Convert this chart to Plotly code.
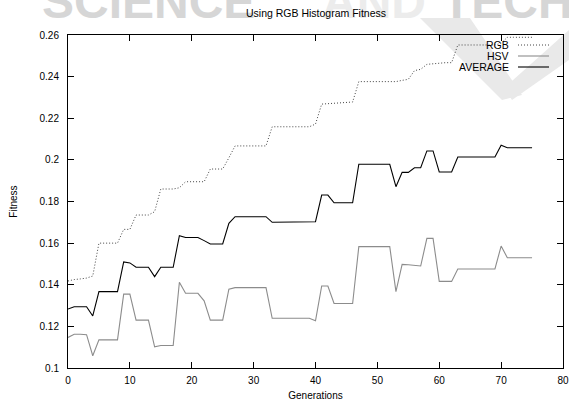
import plotly.graph_objects as go

# ---------------- data ----------------
generations = list(range(76))

rgb = [0.1418, 0.1425, 0.1428, 0.1432, 0.1442,
       0.1600, 0.1600, 0.1600, 0.1600,
       0.1666, 0.1666,
       0.1735, 0.1735, 0.1735,
       0.1751,
       0.1860, 0.1860, 0.1860,
       0.1866,
       0.1895, 0.1895, 0.1895, 0.1895,
       0.1956, 0.1956, 0.1956,
       0.2010,
       0.2067, 0.2067, 0.2067, 0.2067, 0.2067, 0.2067,
       0.2159, 0.2159, 0.2159, 0.2159, 0.2159, 0.2159, 0.2159,
       0.2172,
       0.2268, 0.2270, 0.2272, 0.2274, 0.2276,
       0.2278,
       0.2376, 0.2376, 0.2376, 0.2376, 0.2376, 0.2376, 0.2376,
       0.2382, 0.2387,
       0.2429, 0.2435,
       0.2459, 0.2462, 0.2467, 0.2467, 0.2467,
       0.2552, 0.2552, 0.2552, 0.2552, 0.2552, 0.2552, 0.2552,
       0.2560,
       0.2589, 0.2589, 0.2589, 0.2589, 0.2589]

hsv = [0.1147, 0.1162, 0.1162, 0.1160,
       0.1059,
       0.1135, 0.1135, 0.1135, 0.1135,
       0.1355, 0.1355,
       0.1230, 0.1230, 0.1230,
       0.1102, 0.1108, 0.1108, 0.1108,
       0.1412,
       0.1359, 0.1359, 0.1359,
       0.1323,
       0.1230, 0.1230, 0.1230,
       0.1379,
       0.1386, 0.1386, 0.1386, 0.1386, 0.1386, 0.1386,
       0.1239, 0.1239, 0.1239, 0.1239, 0.1239, 0.1239, 0.1239,
       0.1227,
       0.1394, 0.1394,
       0.1310, 0.1310, 0.1310, 0.1310,
       0.1583, 0.1583, 0.1583, 0.1583, 0.1583, 0.1583,
       0.1367,
       0.1498, 0.1496, 0.1492, 0.1490,
       0.1623, 0.1623,
       0.1416, 0.1416, 0.1416,
       0.1476, 0.1476, 0.1476, 0.1476, 0.1476, 0.1476, 0.1476,
       0.1586,
       0.1530, 0.1530, 0.1530, 0.1530, 0.1530]

average = [0.1283, 0.1294, 0.1294, 0.1294,
           0.1250,
           0.1367, 0.1367, 0.1367, 0.1367,
           0.1510, 0.1505,
           0.1484, 0.1484, 0.1484,
           0.1439,
           0.1484, 0.1484, 0.1484,
           0.1636,
           0.1627, 0.1627, 0.1627,
           0.1612,
           0.1596, 0.1596, 0.1596,
           0.1695,
           0.1727, 0.1727, 0.1727, 0.1727, 0.1727, 0.1727,
           0.1700, 0.1700, 0.1700, 0.1700, 0.1700, 0.1700, 0.1700,
           0.1703,
           0.1831, 0.1831,
           0.1794, 0.1794, 0.1794, 0.1794,
           0.1979, 0.1979, 0.1979, 0.1979, 0.1979, 0.1979,
           0.1871,
           0.1940, 0.1940,
           0.1962, 0.1962,
           0.2043, 0.2043,
           0.1942, 0.1942, 0.1942,
           0.2014, 0.2014, 0.2014, 0.2014, 0.2014, 0.2014, 0.2014,
           0.2070,
           0.2058, 0.2058, 0.2058, 0.2058, 0.2058]

series_names = ["RGB", "HSV", "AVERAGE"]
x_ticks = [0, 10, 20, 30, 40, 50, 60, 70, 80]
y_ticks = [0.1, 0.12, 0.14, 0.16, 0.18, 0.2, 0.22, 0.24, 0.26]
y_tick_labels = ["0.1", "0.12", "0.14", "0.16", "0.18", "0.2", "0.22", "0.24", "0.26"]
chart_title = "Using RGB Histogram Fitness"

# ---------------- layout geometry ----------------
W, H = 569, 403
L, R, T, B = 68, 6, 35, 35
FONT = "Liberation Sans, Arial, sans-serif"


def px(x):
    return (x - L) / (W - L - R)


def py(y):
    return (H - B - y) / (H - T - B)


styles = {
    "RGB": dict(color="#444444", width=1, dash="1px,2px"),
    "HSV": dict(color="#8c8c8c", width=1.1, dash="solid"),
    "AVERAGE": dict(color="#000000", width=1.1, dash="solid"),
}

fig = go.Figure()
for name, vals in zip(series_names, [rgb, hsv, average]):
    fig.add_trace(go.Scatter(x=generations, y=vals, mode="lines", name=name,
                             line=styles[name], showlegend=False))

shapes = []
annotations = []

# background watermark (decoration, drawn first so everything else sits on top)
shapes.append(dict(type="path", xref="paper", yref="paper", layer="below",
                   path=f"M {px(420)},{py(18)} L {px(470)},{py(18)} L {px(522)},{py(95)} L {px(502)},{py(100)} Z",
                   fillcolor="#e9e9e9", line=dict(width=0)))
shapes.append(dict(type="path", xref="paper", yref="paper", layer="below",
                   path=f"M {px(569)},{py(30)} L {px(569)},{py(60)} L {px(512)},{py(100)} L {px(504)},{py(88)} Z",
                   fillcolor="#e9e9e9", line=dict(width=0)))
for txt, x0, col in [("SCIENCE", 40, "#d6d6d6"), ("AND", 320, "#ececec"), ("TECH", 440, "#d6d6d6")]:
    annotations.append(dict(text=txt, x=px(x0), y=py(30), xref="paper", yref="paper",
                            xanchor="left", yanchor="bottom", showarrow=False,
                            font=dict(family=FONT, size=48, color=col, weight="bold")))

# chart title (after the watermark so it is drawn on top of it)
annotations.append(dict(text=chart_title, x=px(316), y=py(13), xref="paper", yref="paper",
                        xanchor="center", yanchor="middle", showarrow=False,
                        font=dict(family=FONT, size=10.5, color="#000000")))

# legend (gnuplot style: label right-aligned, sample on the right)
for i, name in enumerate(series_names):
    yy = 45 + 11 * i
    annotations.append(dict(text=name, x=px(511), y=py(yy), xref="paper", yref="paper",
                            xanchor="right", yanchor="middle", showarrow=False,
                            font=dict(family=FONT, size=10.5, color="#000000")))
    shapes.append(dict(type="line", xref="paper", yref="paper",
                       x0=px(518), x1=px(549), y0=py(yy), y1=py(yy),
                       line=styles[name]))

axis_common = dict(showline=True, linecolor="#000000", linewidth=1, mirror="ticks",
                   ticks="inside", ticklen=6, tickcolor="#000000", tickwidth=1,
                   showgrid=False, zeroline=False, automargin=False,
                   tickfont=dict(family=FONT, size=10, color="#000000"))

fig.update_layout(
    width=W, height=H,
    margin=dict(l=L, r=R, t=T, b=B),
    paper_bgcolor="white", plot_bgcolor="rgba(0,0,0,0)",
    font=dict(family=FONT, size=10, color="#000000"),
    xaxis=dict(range=[0, 80], tickvals=x_ticks, ticklabelstandoff=3,
               title=dict(text="Generations", standoff=6,
                          font=dict(family=FONT, size=10, color="#000000")),
               **axis_common),
    yaxis=dict(range=[0.1, 0.26], tickvals=y_ticks, ticktext=y_tick_labels, ticklabelstandoff=6,
               title=dict(text="Fitness", standoff=20,
                          font=dict(family=FONT, size=10, color="#000000")),
               **axis_common),
    shapes=shapes, annotations=annotations,
)

fig.write_html("out.html",
               config={"displayModeBar": False},
               post_script="document.body.style.margin='0px';document.body.style.padding='0px';")
